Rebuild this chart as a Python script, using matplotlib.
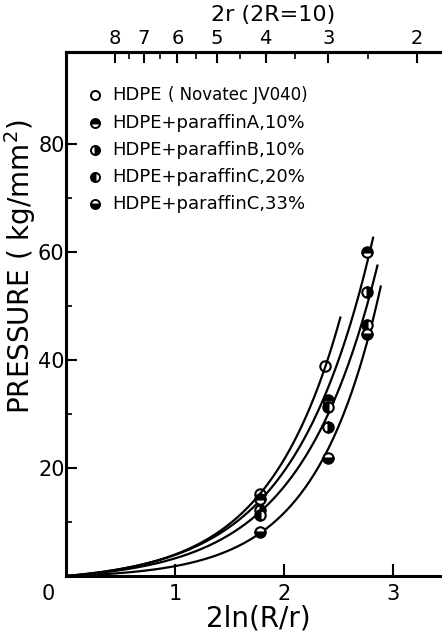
#!/usr/bin/env python3
"""Pressure vs 2ln(R/r) for HDPE / paraffin blends, with 2r (2R=10) on top."""

import numpy as np
import matplotlib
matplotlib.use('Agg')
import matplotlib.pyplot as plt
from matplotlib.transforms import ScaledTranslation

plt.rcParams['font.family'] = ['DejaVu Sans']
plt.rcParams['mathtext.default'] = 'regular'

# data: x = 2ln(R/r), p = pressure (kg/mm^2)
labels = ['HDPE', 'HDPE+paraffinA,10%', 'HDPE+paraffinB,10%',
          'HDPE+paraffinC,20%', 'HDPE+paraffinC,33%']
hdpe_x = [1.78, 2.38]
hdpe_p = [15.2, 38.8]
pa10_x = [1.78, 2.40, 2.76]
pa10_p = [14.3, 32.5, 60.0]
pb10_x = [1.78, 2.40, 2.76]
pb10_p = [12.2, 27.5, 52.5]
pc20_x = [1.78, 2.40, 2.76]
pc20_p = [11.3, 31.2, 46.5]
pc33_x = [1.78, 2.40, 2.76]
pc33_p = [8.1, 21.9, 44.8]

top_major = [8, 7, 6, 5, 4, 3, 2]
top_minor = [7.5, 6.5, 5.5, 4.5, 3.5, 2.5]


def fit_exp(x, p):
    """Fit p = a*(exp(b*x) - 1) in log space (curve passes through origin)."""
    x = np.asarray(x)
    lp = np.log(p)
    best = (np.inf, 1.0, 1.0)
    for b in np.linspace(0.5, 3.0, 1001):
        lf = np.log(np.exp(b * x) - 1)
        la = np.mean(lp - lf)
        err = np.sum((lf + la - lp) ** 2)
        if err < best[0]:
            best = (err, np.exp(la), b)
    return best[1], best[2]


fig = plt.figure(figsize=(4.42, 6.35), dpi=100)
ax = fig.add_axes([66 / 442, 1 - 576 / 635, 376 / 442, 524 / 635])
ax.set_xlim(0, 3.45)
ax.set_ylim(0, 97)

# curves (hand-drawn in the original, here fitted)
curves = [(hdpe_x, hdpe_p, 2.52), (pa10_x, pa10_p, 2.82),
          (pb10_x, pb10_p, 2.86), (pc33_x, pc33_p, 2.89)]
for cx, cp, xend in curves:
    a, b = fit_exp(cx, cp)
    xs = np.linspace(0, xend, 200)
    ax.plot(xs, a * (np.exp(b * xs) - 1), color='black', lw=1.6,
            solid_capstyle='butt', zorder=2)

series = [(hdpe_x, hdpe_p, 'none'), (pa10_x, pa10_p, 'top'),
          (pb10_x, pb10_p, 'right'), (pc20_x, pc20_p, 'left'),
          (pc33_x, pc33_p, 'bottom')]
for sx, sp, fs in series:
    ax.plot(sx, sp, 'o', ms=7.5, mew=1.5, mec='black', mfc='black',
            fillstyle=fs, markerfacecoloralt='white', ls='none', zorder=3)

# legend drawn by hand
leg_y = [0.918, 0.865, 0.813, 0.761, 0.710]
for i, (lbl, (sx, sp, fs)) in enumerate(zip(labels, series)):
    ax.plot([0.077], [leg_y[i]], 'o', ms=6.5, mew=1.4, mec='black',
            mfc='black', fillstyle=fs, markerfacecoloralt='white',
            transform=ax.transAxes, clip_on=False)
    if i == 0:
        ax.text(0.122, leg_y[i], 'HDPE', transform=ax.transAxes,
                va='center', ha='left', fontsize=13)
        ax.text(0.272, leg_y[i], '( Novatec JV040)', transform=ax.transAxes,
                va='center', ha='left', fontsize=12)
    else:
        ax.text(0.122, leg_y[i], lbl, transform=ax.transAxes,
                va='center', ha='left', fontsize=13)

# axes styling
for s in ['left', 'bottom', 'top']:
    ax.spines[s].set_linewidth(2.2)
ax.spines['right'].set_visible(False)

ax.set_xticks([0, 1, 2, 3])
ax.set_xticklabels(['0', '1', '2', '3'])
ax.set_yticks([20, 40, 60, 80])
ax.set_yticks([10, 30, 50, 70], minor=True)
ax.tick_params(axis='x', direction='in', length=9, width=1.5,
               labelsize=15, pad=6)
ax.tick_params(axis='y', direction='in', length=8, width=1.5,
               labelsize=15, pad=1)
ax.tick_params(axis='y', which='minor', direction='in', length=4, width=1.2)
ax.tick_params(top=False, right=False)
# shift the origin "0" to the left of the corner
lab0 = ax.get_xticklabels()[0]
lab0.set_transform(lab0.get_transform() +
                   ScaledTranslation(-13 / 72, 0, fig.dpi_scale_trans))
ax.xaxis.get_major_ticks()[0].tick1line.set_visible(False)

ax.set_xlabel('2ln(R/r)', fontsize=20, labelpad=1)
ax.xaxis.set_label_coords((258 - 66) / 376, -0.055)
ax.set_ylabel('PRESSURE ( kg/mm$^{2}$)', fontsize=20)
ax.yaxis.set_label_coords(-0.075, 0.59)

# top axis: 2r with 2R = 10, x = 2 ln(10 / 2r)
top = ax.secondary_xaxis(
    'top',
    functions=(lambda x: 10 * np.exp(-np.asarray(x, float) / 2),
               lambda r: 2 * np.log(10 / np.clip(np.asarray(r, float), 1e-6, None))))
top.set_xticks(top_major)
top.set_xticklabels([str(v) for v in top_major])
top.set_xticks(top_minor, minor=True)
top.tick_params(direction='in', length=8, width=1.5, labelsize=14, pad=3)
top.tick_params(which='minor', direction='in', length=5, width=1.2)
top.spines['top'].set_linewidth(2.2)
fig.text(273 / 442, 1 - 15 / 635, '2r (2R=10)', fontsize=16,
         ha='center', va='center')

fig.savefig('out.png', dpi=100)
